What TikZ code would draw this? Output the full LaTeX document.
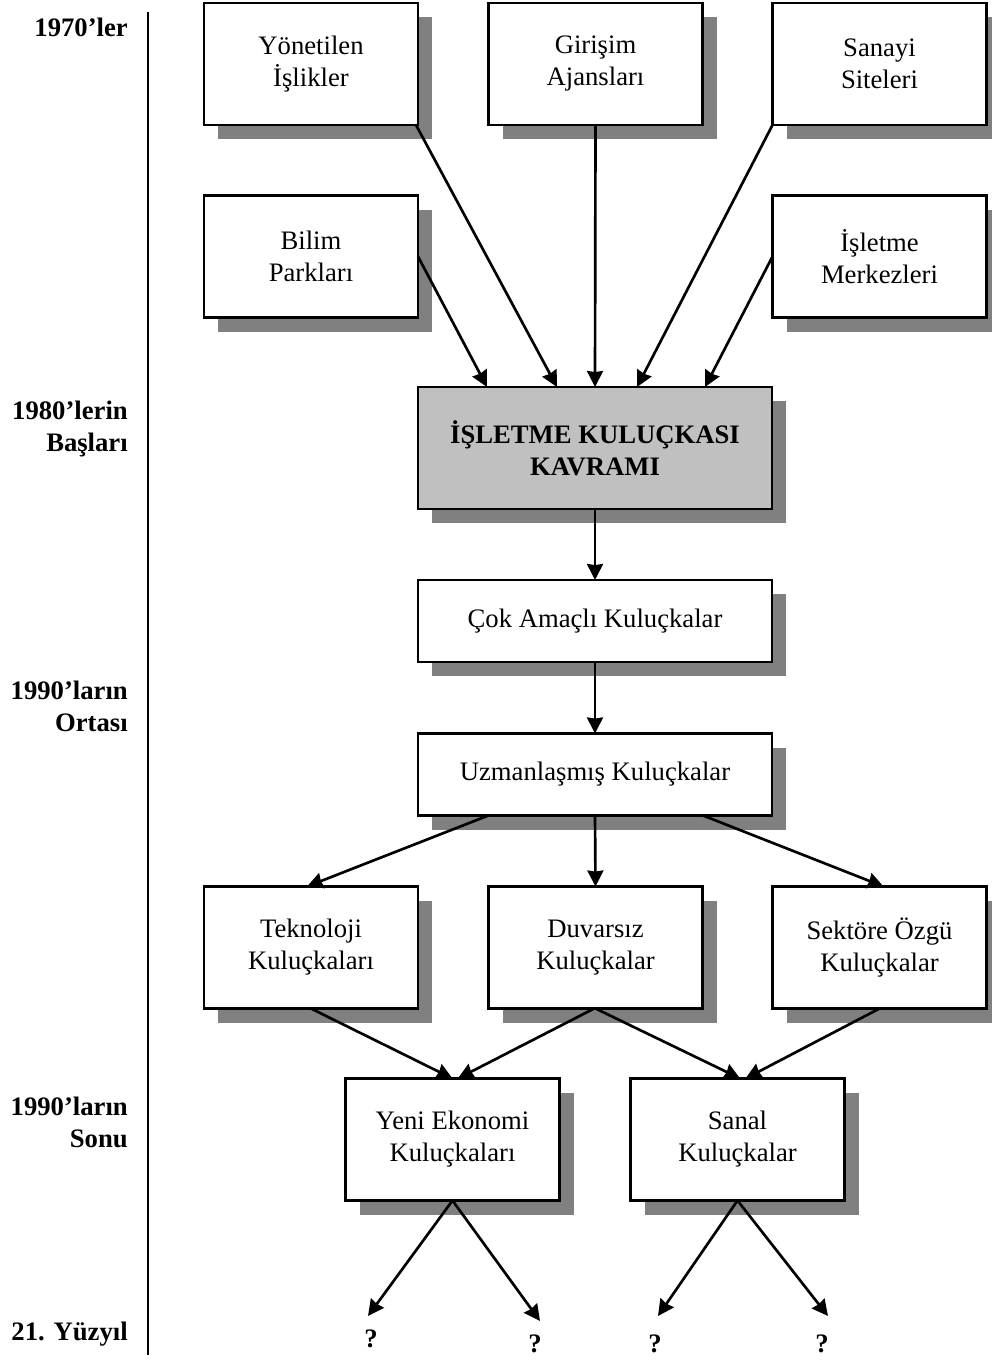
\documentclass[tikz,border=0pt]{standalone}
\usepackage{fontspec}
\setmainfont{Liberation Serif}
\usetikzlibrary{arrows.meta,shadows,calc}
\definecolor{shgray}{HTML}{808080}
\definecolor{mainfill}{HTML}{C0C0C0}
\begin{document}
\begin{tikzpicture}[x=0.75pt,y=-0.75pt,
  every node/.style={font=\fontsize{20pt}{24pt}\selectfont, text=black},
  box/.style={draw=black, line width=1.7pt, fill=white, align=center,
    inner sep=0pt, outer sep=0pt,
    general shadow={shadow xshift=10.5pt, shadow yshift=-10.5pt, fill=shgray, draw=none}},
  smallbox/.style={box, minimum width=160.5pt, minimum height=91.5pt},
  widebox/.style={box, minimum width=265.5pt, minimum height=61.5pt},
  era/.style={font=\bfseries\fontsize{20pt}{24pt}\selectfont, align=right, anchor=east, inner sep=0pt},
  qmark/.style={font=\bfseries\fontsize{20pt}{24pt}\selectfont, inner sep=0pt},
  link/.style={line width=2pt, -{Stealth[length=12pt, width=12pt, inset=0.8pt]}}]
\useasboundingbox (0,0) rectangle (992,1360);

% time axis
\coordinate (axtop) at (148,12);
\coordinate (axbot) at (148,1355);
\draw[line width=1.7pt] (axtop) -- (axbot);

% era labels
\node[era] (e1) at (128,27) {1970’ler};
\node[era] (e2) at (128,429) {1980’lerin\\Başları};
\node[era] (e3) at (128,706) {1990’ların\\Ortası};
\node[era] (e4) at (128,1122) {1990’ların\\Sonu};
\node[era] (e5) at (128,1334) {21. Yüzyıl};

% 1970s forerunners
\node[smallbox] (yon) at (311,64) {Yönetilen\\İşlikler};
\node[smallbox] (gir) at (595.5,64) {Girişim\\Ajansları};
\node[smallbox] (san) at (879.5,64) {Sanayi\\Siteleri};
\node[smallbox] (bil) at (311,256.5) {Bilim\\Parkları};
\node[smallbox] (ism) at (879.5,256.5) {İşletme\\Merkezleri};

% central concept
\node[widebox, fill=mainfill, minimum height=91.5pt, font=\bfseries\fontsize{20pt}{24pt}\selectfont]
  (main) at (595,448) {İŞLETME KULUÇKASI\\KAVRAMI};

% later generations
\node[widebox] (cok) at (595,621) {Çok Amaçlı Kuluçkalar};
\node[widebox] (uzm) at (595,774.5) {Uzmanlaşmış Kuluçkalar};
\node[smallbox] (tek) at (311,947.5) {Teknoloji\\Kuluçkaları};
\node[smallbox] (duv) at (595.5,947.5) {Duvarsız\\Kuluçkalar};
\node[smallbox] (sek) at (879.5,947.5) {Sektöre Özgü\\Kuluçkalar};
\node[smallbox] (yen) at (452.5,1139.5) {Yeni Ekonomi\\Kuluçkaları};
\node[smallbox] (snl) at (737.5,1139.5) {Sanal\\Kuluçkalar};

% open future
\node[qmark] (q1) at (371,1339) {?};
\node[qmark] (q2) at (535,1344) {?};
\node[qmark] (q3) at (655,1344) {?};
\node[qmark] (q4) at (822,1344) {?};
\coordinate (t1) at (368,1316);
\coordinate (t2) at (540,1321);
\coordinate (t3) at (658,1316);
\coordinate (t4) at (828,1316);

% connectors into the concept
\draw[link] (bil.east) -- ([xshift=-81pt]main.north);
\draw[link] ([xshift=-1.5pt]yon.south east) -- ([xshift=-28.5pt]main.north);
\draw[link] (gir.south) -- (main.north);
\draw[link] (san.south west) -- ([xshift=31.5pt]main.north);
\draw[link] (ism.west) -- ([xshift=82.5pt]main.north);

% evolution chain
\draw[link] (main.south) -- (cok.north);
\draw[link] (cok.south) -- (uzm.north);
\draw[link] ([xshift=-80pt]uzm.south) -- ([xshift=-3pt]tek.north);
\draw[link] (uzm.south) -- (duv.south |- duv.north);
\draw[link] ([xshift=81pt]uzm.south) -- ([xshift=3pt]sek.north);
\draw[link] (tek.south) -- (yen.north);
\draw[link] ([xshift=-1pt]duv.south) -- ([xshift=4pt]yen.north);
\draw[link] (duv.south) -- ([xshift=2pt]snl.north);
\draw[link] (sek.south) -- ([xshift=6pt]snl.north);
\draw[link] (yen.south) -- (t1);
\draw[link] (yen.south) -- (t2);
\draw[link] (snl.south) -- (t3);
\draw[link] (snl.south) -- (t4);
\end{tikzpicture}
\end{document}
